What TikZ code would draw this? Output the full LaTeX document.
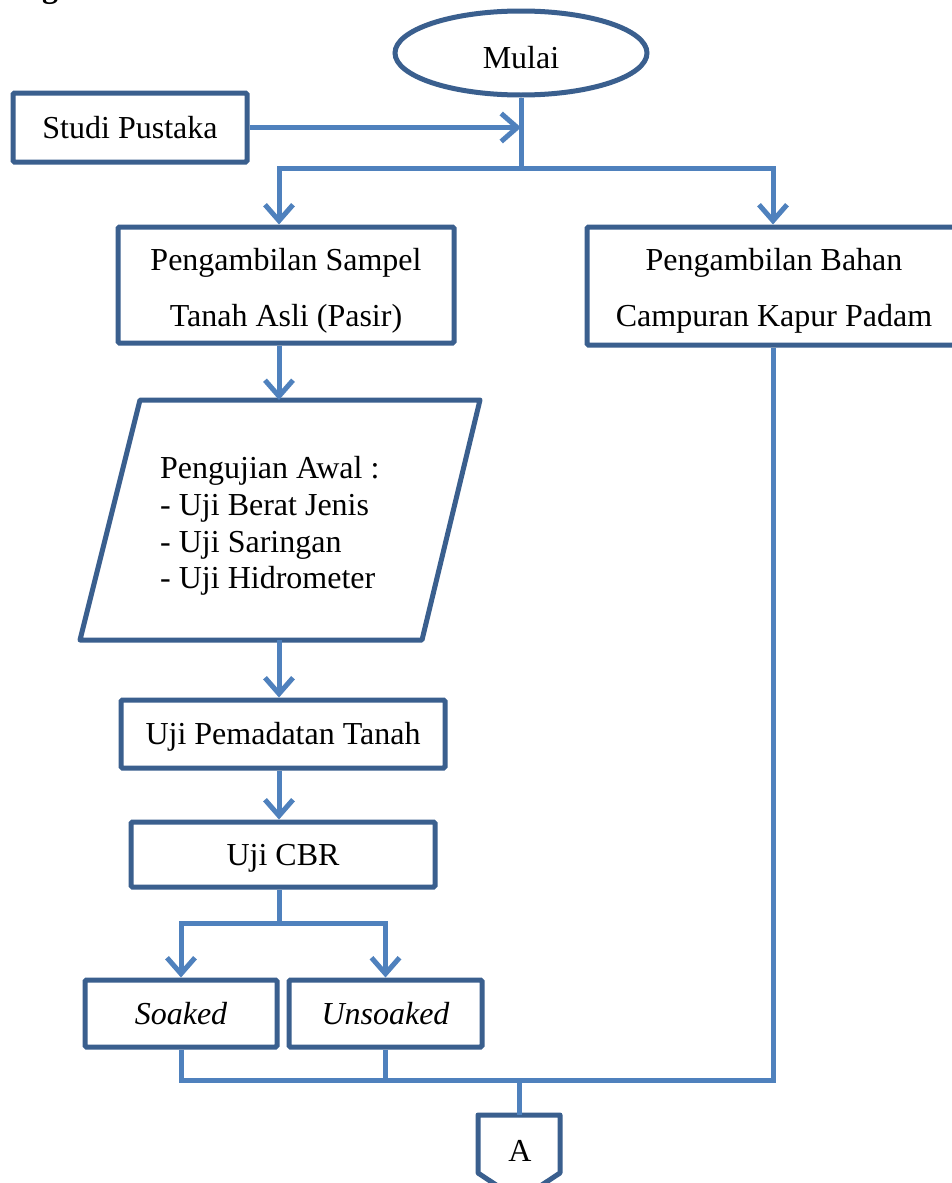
\documentclass[tikz,border=0pt]{standalone}
\usepackage{fontspec}
\setmainfont{Liberation Serif}
\usetikzlibrary{arrows.meta,shapes.geometric,calc}
\definecolor{boxc}{HTML}{3A5F8E}
\definecolor{linec}{HTML}{4F81BD}
\begin{document}
\begin{tikzpicture}[x=1pt,y=-1pt,
  box/.style={draw=boxc,line width=5pt,rounded corners=1.5pt,fill=white,inner sep=0pt,
    font=\fontsize{32}{56}\selectfont,align=center},
  lbl/.style={inner sep=0pt,align=center,font=\fontsize{32}{56}\selectfont},
  conn/.style={draw=linec,line width=5pt},
  arr/.style={conn,-{Straight Barb[length=16pt,width=28pt]}},
]
\clip (0,0) rectangle (952,1183);
\fill[white] (0,0) rectangle (952,1183);

% fragment of text above
\node[font=\bfseries\fontsize{32}{32}\selectfont,anchor=base,inner sep=0pt] (frag) at (50,-2) {g};

% column coordinates
\coordinate (cL) at (279,0);
\coordinate (cR) at (773,0);

% nodes
\node[ellipse,draw=boxc,line width=5pt,fill=white,minimum width=252pt,minimum height=84pt,
  inner sep=0pt] (mulai) at (521,53) {};
\node[lbl] (mulaiT) at (521,58) {Mulai};
\node[box,minimum width=234pt,minimum height=69pt] (studi) at (130,127.5) {Studi Pustaka};
\node[box,minimum width=336pt,minimum height=116pt] (sampel) at (286,285) {};
\node[lbl] (sampelT) at (286,291) {Pengambilan Sampel\\Tanah Asli (Pasir)};
\node[box,minimum width=374pt,minimum height=118pt] (bahan) at (774,286) {};
\node[lbl] (bahanT) at (774,291) {Pengambilan Bahan\\Campuran Kapur Padam};

\coordinate (pTL) at (140,400);
\coordinate (pTR) at (480,400);
\coordinate (pBR) at (422,640);
\coordinate (pBL) at (80,640);
\draw[boxc,line width=5pt,line join=round,fill=white] (pTL) -- (pTR) -- (pBR) -- (pBL) -- cycle;
\node[anchor=west,align=left,inner sep=0pt,font=\fontsize{32}{36.7}\selectfont] (para) at (160,526)
  {Pengujian Awal :\\- Uji Berat Jenis\\- Uji Saringan\\- Uji Hidrometer};

\node[box,minimum width=324pt,minimum height=68pt] (pemadatan) at (283,734) {};
\node[lbl] (pemadatanT) at (283,737) {Uji Pemadatan Tanah};
\node[box,minimum width=304pt,minimum height=65pt] (cbr) at (283,854.5) {};
\node[lbl] (cbrT) at (283,858) {Uji CBR};
\node[box,minimum width=192pt,minimum height=67pt] (soaked) at (181,1013.5) {\itshape Soaked};
\node[box,minimum width=193pt,minimum height=67pt] (unsoaked) at (385.5,1013.5) {\itshape Unsoaked};

\coordinate (Atop) at (519,1115);
\draw[boxc,line width=5pt,line join=round,fill=white] (478,1115) -- (560,1115) -- (560,1173) -- (519,1200) -- (478,1173) -- cycle;
\node[font=\fontsize{32}{38}\selectfont,inner sep=0pt] (A) at (520,1151) {A};

% connectors
\draw[conn] (mulai.south) -- (mulai.south |- 0,168);
\draw[arr] (mulai.south |- 0,168) -| (cL |- sampel.north);
\draw[arr] (mulai.south |- 0,168) -| (cR |- bahan.north);
\draw[arr] (studi.east) -- (mulai.south |- studi.east);
\draw[arr] (cL |- sampel.south) -- (cL |- pTL);
\draw[arr] (cL |- pBL) -- (cL |- pemadatan.north);
\draw[arr] (cL |- pemadatan.south) -- (cL |- cbr.north);
\draw[conn] (cL |- cbr.south) -- (cL |- 0,923);
\draw[arr] (cL |- 0,923) -| (soaked.north);
\draw[arr] (cL |- 0,923) -| (unsoaked.north);
\draw[conn] (soaked.south) |- (cR |- 0,1080) -- (cR |- bahan.south);
\draw[conn] (unsoaked.south) -- (unsoaked.south |- 0,1080);
\draw[conn] (Atop |- 0,1080) -- (Atop);
\end{tikzpicture}
\end{document}
